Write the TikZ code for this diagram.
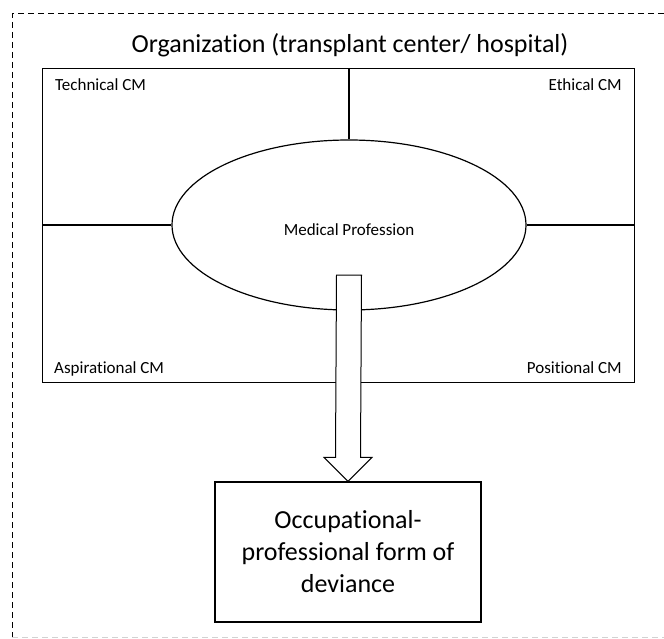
\documentclass[tikz,border=0pt]{standalone}
\usepackage{fontspec}
\setmainfont{Carlito}[RawFeature={-liga}]
\usetikzlibrary{calc,shapes.geometric}
\begin{document}
\begin{tikzpicture}[x=1pt,y=-1pt,
  frameline/.style={line width=1pt,dash pattern=on 6pt off 4pt},
  solidline/.style={line width=1.2pt},
  cornerlabel/.style={font=\fontsize{17}{20}\selectfont,inner sep=0pt},
  bigtext/.style={font=\fontsize{26}{32}\selectfont,align=center}
]
\useasboundingbox (0,0) rectangle (664,639);
% outer dashed frame (only partially visible)
\coordinate (ftl) at (12,14);
\coordinate (ftr) at (664,14);
\coordinate (fbl) at (12,639);
\coordinate (fbl2) at (12,637);
\coordinate (fbr) at (664,637);
\draw[frameline] (ftr) -- (ftl) -- (fbl);
\draw[frameline,gray!35,line width=0.6pt] (fbl2) -- (fbr);
% title
\node[anchor=base,inner sep=0pt,font=\fontsize{26}{30}\selectfont] (title) at (350,53) {Organization (transplant center/ hospital)};
% organisation rectangle
\node[draw,solidline,minimum width=592pt,minimum height=314pt,inner sep=0pt,anchor=north west] (org) at (42,68) {};
% ellipse
\node[draw,solidline,ellipse,minimum width=354pt,minimum height=170pt,inner sep=0pt,fill=white] (ell) at (349,225) {};
\node[cornerlabel,anchor=base] (med) at (349,236) {Medical Profession};
% dividing lines
\draw[solidline] (ell.north |- org.north) -- (ell.north);
\draw[solidline] (org.west |- ell.west) -- (ell.west);
\draw[solidline] (ell.east) -- (org.east |- ell.east);
% corner labels
\node[cornerlabel,anchor=base west] (tech) at (55,91) {Technical CM};
\node[cornerlabel,anchor=base east] (eth) at (622,91) {Ethical CM};
\node[cornerlabel,anchor=base west] (asp) at (54,373) {Aspirational CM};
\node[cornerlabel,anchor=base east] (pos) at (622,373) {Positional CM};
% result box
\node[draw,solidline,minimum width=266pt,minimum height=140pt,inner sep=0pt,bigtext] (dev) at (348,552) {Occupational-\\professional form of\\deviance};
% hollow block arrow from ellipse to box
\coordinate (astart) at ($(ell.center)+(0,50)$);
\coordinate (tip) at (dev.north);
\draw[line width=1pt,fill=white]
  ($(astart)+(-12.5,0)$) -- ($(astart)+(12.5,0)$) -- ($(tip)+(12.5,-24)$) -- ($(tip)+(24,-24)$) -- (tip)
  -- ($(tip)+(-24,-24)$) -- ($(tip)+(-12.5,-24)$) -- cycle;
\end{tikzpicture}
\end{document}
